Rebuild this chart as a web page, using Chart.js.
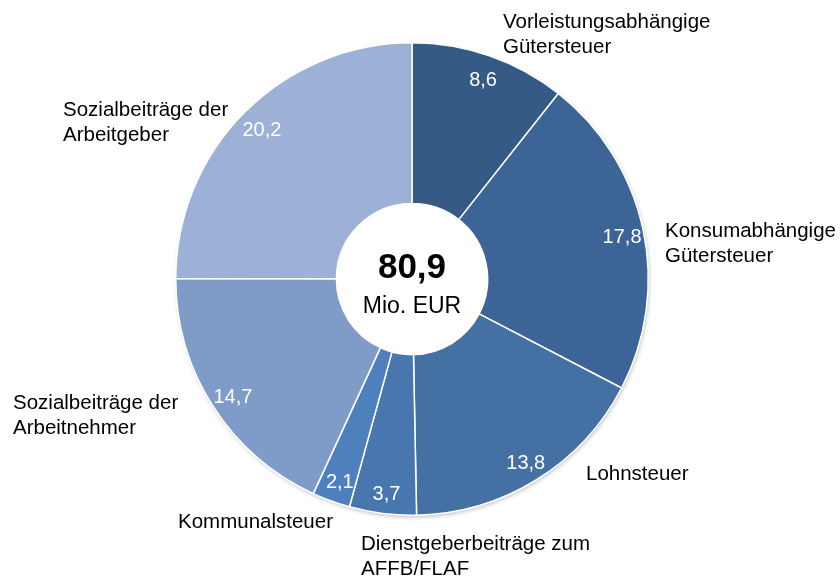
<!DOCTYPE html>
<html>
<head>
<meta charset="utf-8">
<script src="https://cdn.jsdelivr.net/npm/chart.js@4/dist/chart.umd.min.js"></script>
<style>
html,body{margin:0;padding:0;background:#fff;}
canvas{display:block;}
</style>
</head>
<body>
<canvas id="c" width="840" height="577"></canvas>
<script>
const categories = [
  ["Vorleistungsabhängige", "Gütersteuer"],
  ["Konsumabhängige", "Gütersteuer"],
  ["Lohnsteuer"],
  ["Dienstgeberbeiträge zum", "AFFB/FLAF"],
  ["Kommunalsteuer"],
  ["Sozialbeiträge der", "Arbeitnehmer"],
  ["Sozialbeiträge der", "Arbeitgeber"]
];
const values = [8.6, 17.8, 13.8, 3.7, 2.1, 14.7, 20.2];
const totalLabel = "80,9";
const unitLabel = "Mio. EUR";
const colors = ["#355A86", "#3C6496", "#4470A3", "#4876AE", "#4F80BE", "#7F9BC8", "#9CB1D5"];

// label anchor layout (left x, first baseline y)
const labelAnchors = [
  [503, 28], [665, 237], [586, 480], [361, 550], [178, 528], [13, 409], [63, 116]
];
const FONT = "'Liberation Sans', Arial, Helvetica, sans-serif";

const fmt = v => v.toFixed(1).replace('.', ',');

const shadowPlugin = {
  id: 'shadow',
  beforeDatasetsDraw(chart) {
    const meta = chart.getDatasetMeta(0);
    const a = meta.data[0];
    if (!a) return;
    const ctx = chart.ctx;
    ctx.save();
    ctx.shadowColor = 'rgba(0,0,0,0.35)';
    ctx.shadowBlur = 5;
    ctx.shadowOffsetX = 1;
    ctx.shadowOffsetY = 2;
    ctx.fillStyle = '#ffffff';
    ctx.beginPath();
    ctx.arc(a.x, a.y, a.outerRadius - 1, 0, Math.PI * 2);
    ctx.fill();
    ctx.restore();
  }
};

const labelPlugin = {
  id: 'labels',
  afterDatasetsDraw(chart) {
    const ctx = chart.ctx;
    const meta = chart.getDatasetMeta(0);
    ctx.save();
    // value labels
    ctx.fillStyle = '#fff';
    ctx.font = '20px ' + FONT;
    ctx.textAlign = 'center';
    ctx.textBaseline = 'middle';
    meta.data.forEach((arc, i) => {
      const p = arc.getProps(['x','y','startAngle','endAngle','outerRadius'], true);
      const a = (p.startAngle + p.endAngle) / 2;
      const r = p.outerRadius * 0.905;
      ctx.fillText(fmt(values[i]), p.x + Math.cos(a) * r + 1, p.y + Math.sin(a) * r + 3);
    });
    // category labels
    ctx.fillStyle = '#000';
    ctx.font = '20.5px ' + FONT;
    ctx.textAlign = 'left';
    ctx.textBaseline = 'alphabetic';
    categories.forEach((lines, i) => {
      const [x, y] = labelAnchors[i];
      lines.forEach((t, j) => ctx.fillText(t, x, y + j * 25));
    });
    // center
    const c = meta.data[0];
    ctx.textAlign = 'center';
    ctx.font = 'bold 35px ' + FONT;
    ctx.fillText(totalLabel, c.x, 278);
    ctx.font = '23px ' + FONT;
    ctx.fillText(unitLabel, c.x, 313);
    ctx.restore();
  }
};

new Chart(document.getElementById('c'), {
  type: 'doughnut',
  data: {
    labels: categories.map(l => l.join(' ')),
    datasets: [{
      data: values,
      backgroundColor: colors,
      borderColor: '#ffffff',
      borderWidth: 1.5
    }]
  },
  options: {
    responsive: false,
    animation: false,
    cutout: '32%',
    layout: { padding: { left: 175, right: 191, top: 42, bottom: 61 } },
    plugins: { legend: { display: false }, tooltip: { enabled: false } }
  },
  plugins: [shadowPlugin, labelPlugin]
});
</script>
</body>
</html>
